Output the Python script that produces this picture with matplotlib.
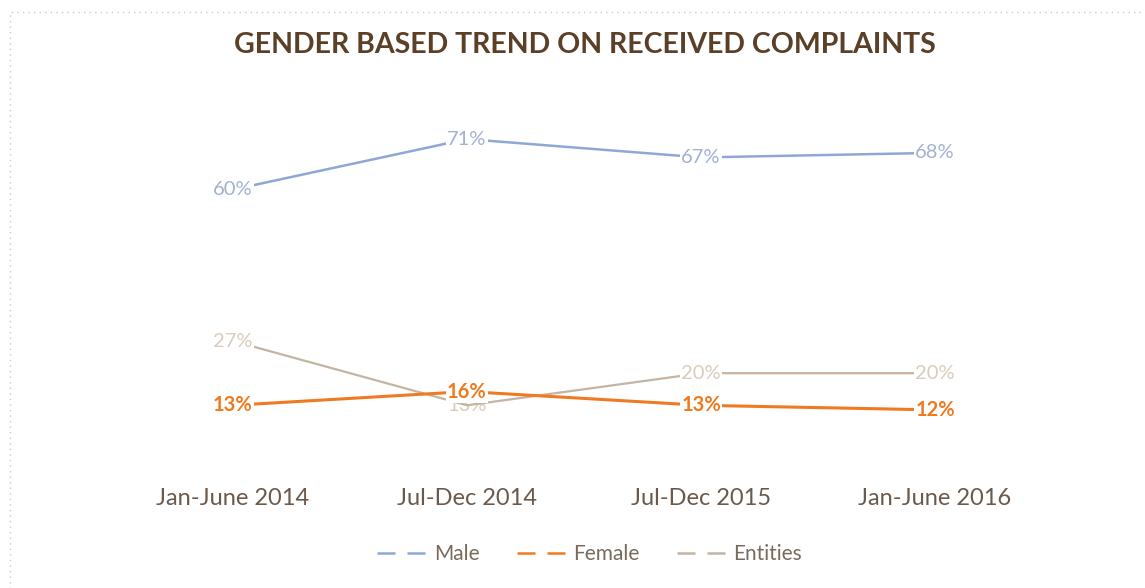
import matplotlib.pyplot as plt
from matplotlib.lines import Line2D
from matplotlib.patches import Rectangle

periods = ["Jan-June 2014", "Jul-Dec 2014", "Jul-Dec 2015", "Jan-June 2016"]
male = [60, 71, 67, 68]
female = [13, 16, 13, 12]
entities = [27, 13, 20, 20]

C_MALE = "#8fa7d6"
C_FEM = "#f07a22"
C_ENT = "#c4b4a4"
FONT = "Lato"

fig = plt.figure(figsize=(11.45, 5.88), dpi=100)
ax = fig.add_axes([0, 0, 1, 1])
ax.set_xlim(-0.9957, 3.897)
ax.set_ylim(-26.8, 101.3)
ax.axis("off")

x = list(range(len(periods)))
ax.plot(x, entities, color=C_ENT, lw=1.6, zorder=2)
ax.plot(x, male, color=C_MALE, lw=1.8, zorder=2)
ax.plot(x, female, color=C_FEM, lw=2.2, zorder=3)

box = dict(facecolor="white", edgecolor="none", pad=1.0)
for i, v in enumerate(male):
    ax.text(i, v, f"{v}%", color="#a3b1cf", fontsize=14.5, family=FONT,
            ha="center", va="center", bbox=box, zorder=5)
for i, v in enumerate(entities):
    ax.text(i, v, f"{v}%", color="#d9ccbc", fontsize=14.5, family=FONT,
            ha="center", va="center", bbox=None if i == 1 else box, zorder=1 if i == 1 else 5)
for i, v in enumerate(female):
    ax.text(i, v, f"{v}%", color="#ef7a1e", fontsize=14.5, family=FONT, weight="bold",
            ha="center", va="center", bbox=box, zorder=6)

for i, p in enumerate(periods):
    ax.text(i, -7.3, p, color="#6b5a4c", fontsize=17, family=FONT,
            ha="center", va="center")

ax.text(0.511, 0.923, "GENDER BASED TREND ON RECEIVED COMPLAINTS", transform=ax.transAxes,
        color="#5b3f27", fontsize=20.5, family=FONT, weight="bold", ha="center", va="center")

handles = [Line2D([], [], color=c, lw=1.8, dashes=(7.2, 4.8)) for c in (C_MALE, C_FEM, C_ENT)]
leg = fig.legend(handles, ["Male", "Female", "Entities"], loc="center",
                 bbox_to_anchor=(0.515, 0.058), ncol=3, frameon=False,
                 handlelength=2.5, handletextpad=0.2, columnspacing=1.8,
                 prop={"family": FONT, "size": 15})
for t in leg.get_texts():
    t.set_color("#7a6a5c")

fig.patches.append(Rectangle((10 / 1145, -0.1), 1.2, 1 - 12 / 588 + 0.1,
                             transform=fig.transFigure, fill=False,
                             edgecolor="#b8d0d4", lw=1, linestyle=(0, (1, 3))))

fig.savefig("out.png", dpi=100, facecolor="white")
